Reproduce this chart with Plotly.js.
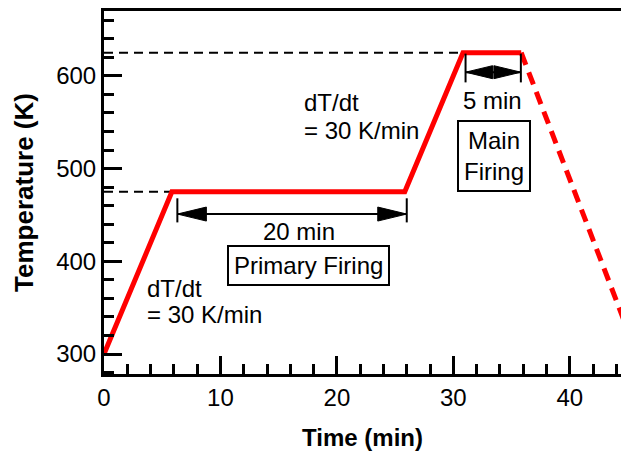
<!DOCTYPE html>
<html>
<head>
<meta charset="utf-8">
<script src="https://cdn.plot.ly/plotly-3.0.1.min.js"></script>
<style>html,body{margin:0;padding:0;overflow:hidden;background:#fff}</style>
</head>
<body>
<div id="chart" style="width:621px;height:459px"></div>
<script>
// Firing schedule (time in min, temperature in K)
const heatTime = [0, 5.83, 25.83, 30.83, 35.83];
const heatTemp = [300, 475, 475, 625, 625];
const coolTime = [35.83, 45];
const coolTemp = [625, 325];
// Dashed guide levels and where they end
const guideTemp = [475, 625];
const guideEnd = [5.83, 30.83];
// Duration markers
const primaryBars = [6.3, 26.0];
const primaryArrowY = 451;
const primaryBarY = [442, 468];
const mainBars = [31.05, 35.8];
const mainArrowY = 604;
const mainBarY = [593, 624];
// Tick labels
const xTicks = [0, 10, 20, 30, 40];
const yTicks = [300, 400, 500, 600];

const FONT = 'Liberation Sans, Arial, sans-serif';

const traces = [
  {x: [0, guideEnd[1]], y: [guideTemp[1], guideTemp[1]], mode: 'lines',
   line: {color: '#000', width: 2, dash: '9px,6px'}, hoverinfo: 'skip'},
  {x: [0, guideEnd[0]], y: [guideTemp[0], guideTemp[0]], mode: 'lines',
   line: {color: '#000', width: 2, dash: '9px,6px'}, hoverinfo: 'skip'},
  {x: heatTime, y: heatTemp, mode: 'lines',
   line: {color: '#ff0000', width: 5}},
  {x: coolTime, y: coolTemp, mode: 'lines',
   line: {color: '#ff0000', width: 5, dash: '13px,8px'}}
];

function arrowShapes(bars, ay, barY, headLen, headHalf) {
  const s = [];
  s.push({type: 'line', x0: bars[0], x1: bars[1], y0: ay, y1: ay, line: {color: '#000', width: 2}});
  bars.forEach(b => s.push({type: 'line', x0: b, x1: b, y0: barY[0], y1: barY[1], line: {color: '#000', width: 2}}));
  s.push({type: 'path', xsizemode: 'pixel', ysizemode: 'pixel', xanchor: bars[0], yanchor: ay,
          path: `M0,0 L${headLen},${headHalf} L${headLen},${-headHalf} Z`,
          fillcolor: '#000', line: {color: '#000', width: 1}});
  s.push({type: 'path', xsizemode: 'pixel', ysizemode: 'pixel', xanchor: bars[1], yanchor: ay,
          path: `M0,0 L${-headLen},${headHalf} L${-headLen},${-headHalf} Z`,
          fillcolor: '#000', line: {color: '#000', width: 1}});
  return s;
}

const shapes = [].concat(
  arrowShapes(primaryBars, primaryArrowY, primaryBarY, 29, 7),
  arrowShapes(mainBars, mainArrowY, mainBarY, 27, 6.5)
);

const tf = {family: FONT, size: 24, color: '#000'};
function txt(text, x, y, xanchor, extra) {
  return Object.assign({text: text, x: x, y: y, xref: 'x', yref: 'y', showarrow: false,
    xanchor: xanchor || 'center', yanchor: 'middle', font: tf}, extra || {});
}

const annotations = [
  txt('dT/dt', 3.55, 371, 'left'),
  txt('= 30 K/min', 3.55, 343, 'left'),
  txt('dT/dt', 17.0, 571, 'left'),
  txt('= 30 K/min', 17.0, 541, 'left'),
  txt('20 min', 16.75, 432),
  txt('Primary Firing', 17.6, 395, 'center', {bordercolor: '#000', borderwidth: 2, borderpad: 5, bgcolor: '#fff'}),
  txt('5 min', 33.37, 573),
  txt('Main<br>Firing', 33.45, 514, 'center', {bordercolor: '#000', borderwidth: 2, borderpad: 5, bgcolor: '#fff'})
];

const layout = {
  width: 621, height: 459,
  margin: {l: 104, r: 0, t: 11, b: 85},
  paper_bgcolor: '#fff', plot_bgcolor: '#fff',
  showlegend: false,
  font: tf,
  xaxis: {
    range: [0, 44.4], tickvals: xTicks, ticktext: xTicks.map(String),
    ticks: 'inside', ticklen: 18, tickwidth: 3, tickcolor: '#000',
    minor: {dtick: 2, tick0: 0, ticks: 'inside', ticklen: 10, tickwidth: 3, tickcolor: '#000'},
    showline: true, linecolor: '#000', linewidth: 3, mirror: true,
    showgrid: false, zeroline: false, tickfont: tf,
    title: {text: '<b>Time (min)</b>', font: {family: FONT, size: 24, color: '#000'}, standoff: 20}
  },
  yaxis: {
    range: [278.5, 670], tickvals: yTicks, ticktext: yTicks.map(String),
    ticks: 'inside', ticklen: 18, tickwidth: 3, tickcolor: '#000',
    minor: {dtick: 20, tick0: 0, ticks: 'inside', ticklen: 10, tickwidth: 3, tickcolor: '#000'},
    showline: true, linecolor: '#000', linewidth: 3, mirror: false,
    showgrid: false, zeroline: false, tickfont: tf,
    title: {text: '<b>Temperature (K)</b>', font: {family: FONT, size: 26, color: '#000'}, standoff: 16}
  },
  shapes: shapes,
  annotations: annotations
};

Plotly.newPlot('chart', traces, layout, {displayModeBar: false, staticPlot: true});
</script>
</body>
</html>
